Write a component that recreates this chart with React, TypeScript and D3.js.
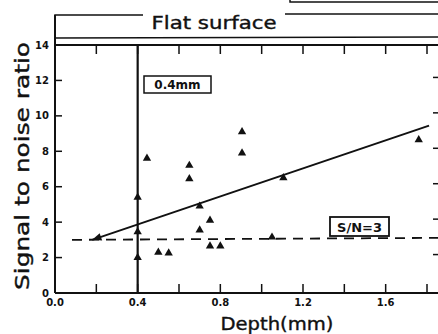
import * as d3 from "d3";

// depth (mm) and signal-to-noise ratio of each measured point
const depths = [0.4, 0.4, 0.4, 0.445, 0.5, 0.55, 0.65, 0.65, 0.7, 0.7, 0.75, 0.75, 0.8, 0.905, 0.905, 1.05, 1.105, 1.76];
const ratios = [5.4, 3.45, 2.0, 7.6, 2.3, 2.25, 7.2, 6.45, 4.9, 3.55, 4.1, 2.65, 2.65, 9.1, 7.9, 3.15, 6.5, 8.65];

// fitted trend line (start, end)
const fitDepths = [0.18, 1.81];
const fitRatios = [3.0, 9.45];

const thresholdRatio = 3;
const limitDepth = 0.4;

const xTickValues = [0.2, 0.4, 0.6, 0.8, 1.0, 1.2, 1.4, 1.6, 1.8];
const xTickLabels = ["0.0", "0.4", "0.8", "1.2", "1.6"];
const yTickValues = [2, 4, 6, 8, 10, 12];
const yTickLabels = ["0", "2", "4", "6", "8", "10", "12", "14"];

const W = 438;
const H = 334;

export default function App() {
  const x = d3.scaleLinear().domain([0, 1.8]).range([55, 427]);
  const y = d3.scaleLinear().domain([0, 14]).range([293, 45]);
  const right = 438;
  const ink = "#111";
  const font = "'DejaVu Sans', sans-serif";

  const fitLine = d3
    .line<number>()
    .x((d) => x(d))
    .y((_, i) => y(fitRatios[i]));

  const marker = d3.symbol().type(d3.symbolTriangle).size(30)() as string;

  // arrow head at the left end of the trend line
  const ax = x(fitDepths[0]);
  const ay = y(fitRatios[0]);
  const ang = Math.atan2(y(fitRatios[1]) - ay, x(fitDepths[1]) - ax);
  const head = (a: number, r: number) => [ax + r * Math.cos(a), ay + r * Math.sin(a)];
  const h1 = head(ang + 0.4, 10);
  const h2 = head(ang - 0.4, 10);

  return (
    <svg
      width={W}
      height={H}
      style={{ position: "fixed", left: 0, top: 0, background: "#fff" }}
    >
      <rect width={W} height={H} fill="#fff" />

      {/* box cut off at the top right */}
      <path d={`M290,0 V2 H${right}`} fill="none" stroke={ink} strokeWidth={1.5} />

      {/* header "Flat surface" */}
      <path d={`M55,45 V15 H143`} fill="none" stroke={ink} strokeWidth={1.5} />
      <path d={`M285,14 H${right}`} fill="none" stroke={ink} strokeWidth={1.5} />
      <line x1={55} x2={right} y1={38} y2={37} stroke={ink} strokeWidth={1.5} />
      <text
        x={214}
        y={29}
        textAnchor="middle"
        fontFamily={font}
        fontSize={18}
        textLength={125}
        lengthAdjust="spacingAndGlyphs"
        fill={ink}
        stroke={ink}
        strokeWidth={0.4}
      >
        Flat surface
      </text>

      {/* frame */}
      <line x1={55} x2={right} y1={y(14)} y2={y(14)} stroke={ink} strokeWidth={2} />
      <line x1={55} x2={right} y1={y(0)} y2={y(0)} stroke={ink} strokeWidth={2} />
      <line x1={55} x2={55} y1={15} y2={y(0)} stroke={ink} strokeWidth={2} />

      {/* x ticks, bottom and top, pointing inward */}
      {xTickValues.map((v) => (
        <g key={`xt${v}`}>
          <line x1={x(v)} x2={x(v)} y1={y(0)} y2={y(0) - 9} stroke={ink} strokeWidth={1.5} />
          <line x1={x(v)} x2={x(v)} y1={y(14)} y2={y(14) + 9} stroke={ink} strokeWidth={1.5} />
        </g>
      ))}

      {/* y ticks, left and right */}
      {yTickValues.map((v) => (
        <g key={`yt${v}`}>
          <line x1={55} x2={62} y1={y(v)} y2={y(v)} stroke={ink} strokeWidth={1.5} />
          <line x1={right - 5} x2={right} y1={y(v) - 3} y2={y(v) - 3} stroke={ink} strokeWidth={1.5} />
        </g>
      ))}

      {/* tick labels */}
      {yTickLabels.map((t) => (
        <text
          key={`yl${t}`}
          x={49}
          y={y(+t)}
          dy="0.35em"
          textAnchor="end"
          fontFamily={font}
          fontWeight="bold"
          fontSize={10}
          fill={ink}
        >
          {t}
        </text>
      ))}
      {xTickLabels.map((t) => (
        <text
          key={`xl${t}`}
          x={x(+t)}
          y={306}
          textAnchor="middle"
          fontFamily={font}
          fontWeight="bold"
          fontSize={10}
          fill={ink}
        >
          {t}
        </text>
      ))}

      {/* axis titles */}
      <text
        x={277}
        y={330}
        textAnchor="middle"
        fontFamily={font}
        fontSize={18}
        textLength={113}
        lengthAdjust="spacingAndGlyphs"
        fill={ink}
        stroke={ink}
        strokeWidth={0.4}
      >
        Depth(mm)
      </text>
      <text
        transform="translate(29,166) rotate(-90)"
        textAnchor="middle"
        fontFamily={font}
        fontSize={20}
        textLength={248}
        lengthAdjust="spacingAndGlyphs"
        fill={ink}
        stroke={ink}
        strokeWidth={0.4}
      >
        Signal to noise ratio
      </text>

      {/* 0.4 mm limit */}
      <line x1={x(limitDepth)} x2={x(limitDepth)} y1={y(14)} y2={y(0)} stroke={ink} strokeWidth={2.2} />
      <rect x={144} y={76} width={67} height={17} fill="#fff" stroke={ink} strokeWidth={1.5} />
      <text x={177.5} y={89} textAnchor="middle" fontFamily={font} fontWeight="bold" fontSize={12} fill={ink}>
        0.4mm
      </text>

      {/* S/N = 3 threshold */}
      <line
        x1={72}
        x2={right}
        y1={y(thresholdRatio)}
        y2={y(thresholdRatio) - 2}
        stroke={ink}
        strokeWidth={1.8}
        strokeDasharray="10,7"
      />
      <rect x={330} y={217} width={59} height={19} fill="#fff" stroke={ink} strokeWidth={1.8} />
      <text x={359.5} y={231.5} textAnchor="middle" fontFamily={font} fontWeight="bold" fontSize={13} fill={ink}>
        S/N=3
      </text>

      {/* trend line */}
      <path d={fitLine(fitDepths) ?? ""} fill="none" stroke={ink} strokeWidth={2} />
      <path d={`M${ax},${ay} L${h1[0]},${h1[1]} L${h2[0]},${h2[1]} Z`} fill={ink} />

      {/* measured points */}
      {depths.map((d, i) => (
        <path key={`p${i}`} d={marker} transform={`translate(${x(d)},${y(ratios[i])})`} fill={ink} />
      ))}
    </svg>
  );
}
